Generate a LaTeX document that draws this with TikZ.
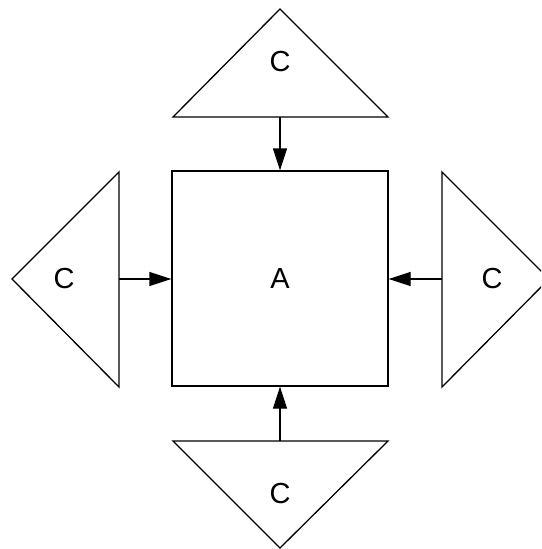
\documentclass[tikz,border=0pt]{standalone}
\usepackage{fontspec}
\setmainfont{Liberation Sans}
\usetikzlibrary{arrows.meta}
\tikzset{
  shapeline/.style={draw=black, line width=1.3pt, line join=miter},
  lbl/.style={inner sep=0pt, font=\fontsize{29}{34}\selectfont},
  conn/.style={draw=black, line width=1.3pt, -{Triangle[length=22pt,width=14pt]}},
}
\begin{document}
\begin{tikzpicture}[x=1pt,y=-1pt]
\clip (0,0) rectangle (541,549);
% central square
\node[shapeline, minimum width=216pt, minimum height=215pt, inner sep=0pt, lbl] (A) at (280,278.5) {A};
% top triangle
\draw[shapeline] (173,117) -- (388,117) -- (280,9) -- cycle;
\coordinate (ct) at (280,117);
\node[lbl] (Ctop) at (280,62) {C};
% bottom triangle
\draw[shapeline] (173,441) -- (388,441) -- (280,548) -- cycle;
\coordinate (cb) at (280,441);
\node[lbl] (Cbot) at (280,494) {C};
% left triangle
\draw[shapeline] (119,172) -- (119,387) -- (12,279) -- cycle;
\coordinate (cl) at (119,279);
\node[lbl] (Cleft) at (64,279) {C};
% right triangle
\draw[shapeline] (442,172) -- (442,387) -- (549,279) -- cycle;
\coordinate (cr) at (442,279);
\node[lbl] (Cright) at (492,279) {C};
% connectors
\draw[conn] (ct) -- (A.north);
\draw[conn] (cb) -- (A.south);
\draw[conn] (cl) -- (A.west |- cl);
\draw[conn] (cr) -- (A.east |- cr);
\end{tikzpicture}
\end{document}
